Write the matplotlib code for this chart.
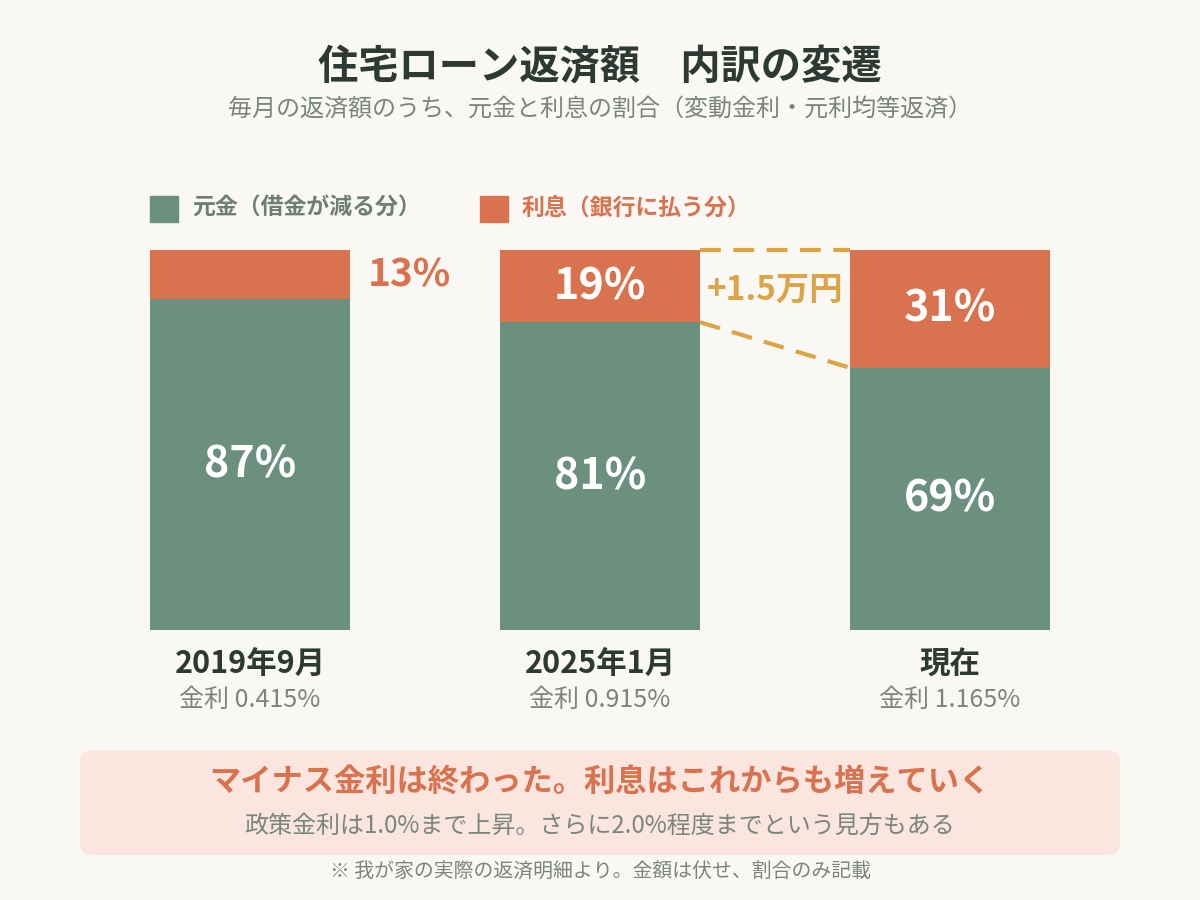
import matplotlib.pyplot as plt
from matplotlib.patches import FancyBboxPatch

plt.rcParams['font.family'] = ['Noto Sans CJK JP', 'DejaVu Sans']

# data
periods = ['2019年9月', '2025年1月', '現在']
rates = ['金利 0.415%', '金利 0.915%', '金利 1.165%']
principal = [87, 81, 69]
interest = [13, 19, 31]
diff_label = '+1.5万円'

bg = '#FAF8F4'
green = '#6B9080'
orange = '#D9724E'
gold = '#DBA445'
dark = '#2D3A33'
gray = '#7B8580'

fig = plt.figure(figsize=(12, 9), dpi=100, facecolor=bg)

fig.text(0.5, 1 - 68 / 900, '住宅ローン返済額　内訳の変遷', ha='center', va='center',
         fontsize=29, fontweight='bold', color=dark)
fig.text(0.5, 1 - 110 / 900, '毎月の返済額のうち、元金と利息の割合（変動金利・元利均等返済）',
         ha='center', va='center', fontsize=17.3, color=gray)

# legend
for x0, col, txt in [(150, green, '元金（借金が減る分）'), (480, orange, '利息（銀行に払う分）')]:
    fig.patches.append(plt.Rectangle((x0 / 1200, 1 - 222 / 900), 28 / 1200, 26 / 900,
                                     transform=fig.transFigure, color=col))
    fig.text((x0 + 42) / 1200, 1 - 208 / 900, txt, ha='left', va='center',
             fontsize=16.5, fontweight='bold', color='#6E7E76' if col == green else orange)

ax = fig.add_axes([150 / 1200, 1 - 630 / 900, 900 / 1200, 380 / 900])
ax.set_facecolor(bg)
w = 200 / 350
xs = list(range(len(periods)))
ax.bar(xs, principal, width=w, color=green)
ax.bar(xs, interest, width=w, bottom=principal, color=orange)
ax.set_xlim(-w / 2, xs[-1] + w / 2)
ax.set_ylim(0, 100)
ax.axis('off')

for i in xs:
    ax.text(i, principal[i] / 2, f'{principal[i]}%', ha='center', va='center',
            fontsize=31, fontweight='bold', color='white')
    if interest[i] < 15:
        ax.text(i + w / 2 + 0.05, principal[i] + interest[i] / 2, f'{interest[i]}%',
                ha='left', va='center', fontsize=28, fontweight='bold', color=orange)
    else:
        ax.text(i, principal[i] + interest[i] / 2, f'{interest[i]}%', ha='center',
                va='center', fontsize=31, fontweight='bold', color='white')
    ax.text(i, -9, periods[i], ha='center', va='center', fontsize=22,
            fontweight='bold', color=dark, clip_on=False)
    ax.text(i, -18.5, rates[i], ha='center', va='center', fontsize=18,
            color=gray, clip_on=False)

# connector between 2025 and now
xa, xb = 1 + w / 2, 2 - w / 2
ax.plot([xa, xb], [100, 100], ls=(0, (5, 3)), color=gold, lw=3, clip_on=False)
ax.plot([xa, xb], [principal[1], principal[2]], ls=(0, (5, 3)), color=gold, lw=3)
ax.text(1.5, 89.5, diff_label, ha='center', va='center', fontsize=24,
        fontweight='bold', color=gold)

# message box
box = FancyBboxPatch((80 / 1200, 1 - 855 / 900), 1040 / 1200, 105 / 900,
                     boxstyle='round,pad=0,rounding_size=0.012',
                     transform=fig.transFigure, facecolor='#FBE6DF', edgecolor='none')
fig.patches.append(box)
fig.text(0.5, 1 - 783 / 900, 'マイナス金利は終わった。利息はこれからも増えていく',
         ha='center', va='center', fontsize=22.5, fontweight='bold', color=orange)
fig.text(0.5, 1 - 826 / 900, '政策金利は1.0%まで上昇。さらに2.0%程度までという見方もある',
         ha='center', va='center', fontsize=17.3, color=gray)
fig.text(0.5, 1 - 872 / 900, '※ 我が家の実際の返済明細より。金額は伏せ、割合のみ記載',
         ha='center', va='center', fontsize=14.3, color=gray)

fig.savefig('out.png', dpi=100, facecolor=bg)
